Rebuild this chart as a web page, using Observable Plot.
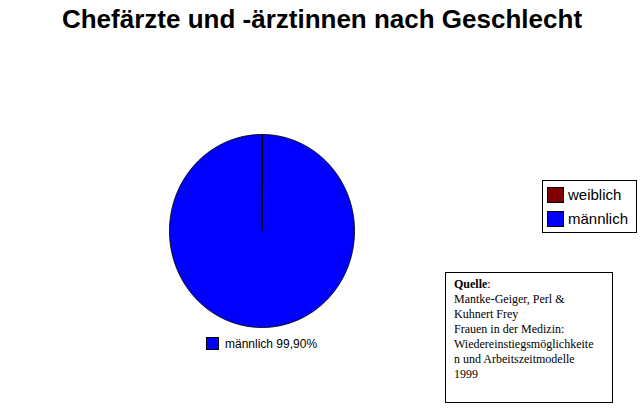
<!DOCTYPE html>
<html>
<head>
<meta charset="utf-8">
<script src="https://cdn.jsdelivr.net/npm/d3@7"></script>
<script src="https://cdn.jsdelivr.net/npm/@observablehq/plot@0.6"></script>
<style>
  html, body { margin: 0; padding: 0; background: #fff; }
  #wrap { position: relative; width: 642px; height: 410px; overflow: hidden; background: #fff; }
  #wrap svg { position: absolute; left: 0; top: 0; }
  .title { position: absolute; left: 0; top: 6px; width: 644px; text-align: center;
    font: bold 26px "Liberation Sans", Arial, sans-serif; line-height: 26px; color: #000; }
  .legend { position: absolute; left: 542px; top: 180px; width: 93px; height: 51px;
    border: 1px solid #000; background: #fff; }
  .legend .item { position: absolute; left: 4px; height: 16px;
    font: 15px "Liberation Sans", Arial, sans-serif; line-height: 15px; }
  .legend .sw { position: absolute; left: 0; top: 0; width: 15px; height: 14px; border: 1px solid #000; }
  .legend .lbl { position: absolute; left: 21px; top: 0; white-space: nowrap; }
  .source { position: absolute; left: 445px; top: 272px; width: 166px; height: 129px;
    border: 1px solid #000; background: #fff; box-sizing: content-box; }
  .source .txt { position: absolute; left: 8px; top: 4px;
    font: 12px "Liberation Serif", "Times New Roman", serif; line-height: 15px; }
  .source .txt div { white-space: nowrap; height: 15px; }
  .plabel { position: absolute; left: 206px; top: 337px; white-space: nowrap;
    font: 12px "Liberation Sans", Arial, sans-serif; line-height: 15px; }
  .plabel .sw { display: inline-block; width: 11px; height: 11px; border: 1px solid #000;
    vertical-align: -2px; margin-right: 6px; }
</style>
</head>
<body>
<div id="wrap"></div>
<script>
// ---- data ----
const titleText = "Chefärzte und -ärztinnen nach Geschlecht";
const categories = ["weiblich", "männlich"];
const shares = [0.1, 99.9];            // percent
const colors = ["#800000", "#0000FF"];
const sliceLabels = ["", "männlich 99,90%"];
const sourceHead = "Quelle:";
const sourceLines = [
  "Mantke-Geiger, Perl &",
  "Kuhnert Frey",
  "Frauen in der Medizin:",
  "Wiedereinstiegsmöglichkeite",
  "n und Arbeitszeitmodelle",
  "1999"
];

// ---- build slice outlines in data space (unit circle), clockwise from 12 o'clock ----
const total = d3.sum(shares);
const rows = [];
let acc = 0;
categories.forEach((cat, i) => {
  const a0 = acc / total * 2 * Math.PI;
  acc += shares[i];
  const a1 = acc / total * 2 * Math.PI;
  const steps = Math.max(2, Math.ceil((a1 - a0) / (Math.PI / 360)));
  rows.push({cat, x: 0, y: 0});
  for (let k = 0; k <= steps; k++) {
    const a = a0 + (a1 - a0) * k / steps;
    rows.push({cat, x: Math.sin(a), y: Math.cos(a)});
  }
  rows.push({cat, x: 0, y: 0});
});

const wrap = document.getElementById("wrap");

const chart = Plot.plot({
  width: 642,
  height: 410,
  marginLeft: 169,
  marginRight: 288,
  marginTop: 134,
  marginBottom: 83,
  x: {domain: [-1, 1], axis: null},
  y: {domain: [-1, 1], axis: null},
  color: {domain: categories, range: colors},
  style: {background: "transparent", overflow: "visible"},
  marks: [
    Plot.line(rows, {
      x: "x", y: "y", z: "cat",
      fill: "cat",
      stroke: "#000",
      strokeWidth: 1,
      curve: "linear-closed"
    })
  ]
});
wrap.appendChild(chart);

// title
const t = document.createElement("div");
t.className = "title";
t.textContent = titleText;
wrap.appendChild(t);

// slice label (only visible large slice)
sliceLabels.forEach((lab, i) => {
  if (!lab) return;
  const d = document.createElement("div");
  d.className = "plabel";
  const sw = document.createElement("span");
  sw.className = "sw";
  sw.style.background = colors[i];
  d.appendChild(sw);
  d.appendChild(document.createTextNode(lab));
  wrap.appendChild(d);
});

// legend
const lg = document.createElement("div");
lg.className = "legend";
categories.forEach((cat, i) => {
  const it = document.createElement("div");
  it.className = "item";
  it.style.top = (6 + i * 24) + "px";
  const sw = document.createElement("div");
  sw.className = "sw";
  sw.style.background = colors[i];
  const lb = document.createElement("div");
  lb.className = "lbl";
  lb.textContent = cat;
  it.appendChild(sw); it.appendChild(lb);
  lg.appendChild(it);
});
wrap.appendChild(lg);

// source box
const src = document.createElement("div");
src.className = "source";
const tx = document.createElement("div");
tx.className = "txt";
const head = document.createElement("div");
const b = document.createElement("b");
b.textContent = sourceHead.replace(":", "");
head.appendChild(b);
head.appendChild(document.createTextNode(":"));
tx.appendChild(head);
sourceLines.forEach(line => {
  const l = document.createElement("div");
  l.textContent = line;
  tx.appendChild(l);
});
src.appendChild(tx);
wrap.appendChild(src);
</script>
</body>
</html>
